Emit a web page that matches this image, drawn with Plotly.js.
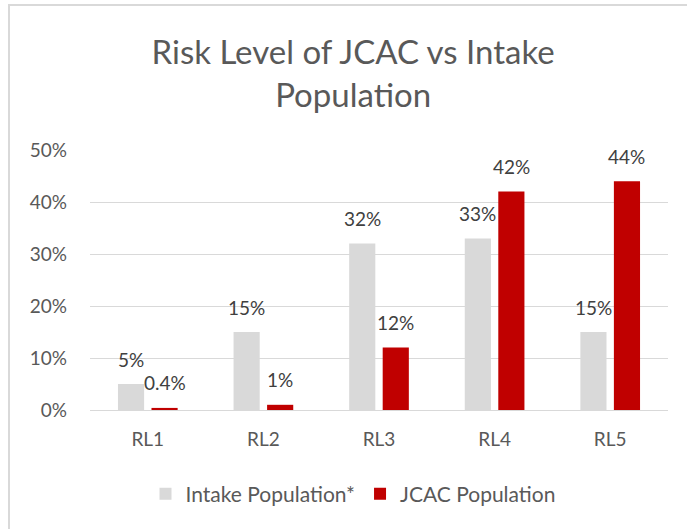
<!DOCTYPE html>
<html>
<head>
<meta charset="utf-8">
<script src="https://cdn.plot.ly/plotly-3.0.1.min.js"></script>
<style>
  html, body { margin: 0; padding: 0; background: #ffffff; }
  #chart { width: 687px; height: 529px; }
</style>
</head>
<body>
<div id="chart"></div>
<script>
// Data
const categories = ["RL1", "RL2", "RL3", "RL4", "RL5"];
const intakePopulation = [0.05, 0.15, 0.32, 0.33, 0.15];
const jcacPopulation = [0.004, 0.01, 0.12, 0.42, 0.44];
const intakeLabels = ["5%", "15%", "32%", "33%", "15%"];
const jcacLabels = ["0.4%", "1%", "12%", "42%", "44%"];
const yTickValues = [0, 0.1, 0.2, 0.3, 0.4, 0.5];
const yTickLabels = ["0%", "10%", "20%", "30%", "40%", "50%"];
const seriesNames = ["Intake Population*", "JCAC Population"];

const FONT = "Lato, 'Noto Sans', sans-serif";
const TICK_COLOR = "#595959";
const LABEL_COLOR = "#404040";

const traces = [
  {
    type: "bar",
    name: seriesNames[0],
    x: categories,
    y: intakePopulation,
    marker: { color: "#d9d9d9" },
    hoverinfo: "skip"
  },
  {
    type: "bar",
    name: seriesNames[1],
    x: categories,
    y: jcacPopulation,
    marker: { color: "#c00000" },
    hoverinfo: "skip"
  }
];

const annotations = [];
function addLabels(values, labels, shift) {
  for (let i = 0; i < categories.length; i++) {
    annotations.push({
      x: categories[i],
      y: values[i],
      xref: "x",
      yref: "y",
      text: labels[i],
      showarrow: false,
      xshift: shift,
      yshift: 25,
      yanchor: "middle",
      xanchor: "center",
      font: { family: FONT, size: 19, color: LABEL_COLOR }
    });
  }
}
addLabels(intakePopulation, intakeLabels, -16.7);
addLabels(jcacPopulation, jcacLabels, 16.7);

const layout = {
  width: 687,
  height: 529,
  paper_bgcolor: "#ffffff",
  plot_bgcolor: "#ffffff",
  margin: { l: 90, r: 19, t: 150, b: 119, pad: 0 },
  barmode: "group",
  bargap: 0.42,
  bargroupgap: 0.22,
  title: {
    text: "Risk Level of JCAC vs Intake<br>Population",
    font: { family: FONT, size: 33, color: TICK_COLOR },
    x: 0.514,
    xanchor: "center",
    xref: "container",
    yref: "container",
    y: 1 - 64 / 529,
    yanchor: "middle"
  },
  xaxis: {
    type: "category",
    showgrid: false,
    zeroline: false,
    showline: false,
    ticks: "",
    ticklabelstandoff: 16,
    tickfont: { family: FONT, size: 19, color: TICK_COLOR }
  },
  yaxis: {
    range: [0, 0.5],
    tickvals: yTickValues,
    ticktext: yTickLabels,
    showgrid: true,
    gridcolor: "#d9d9d9",
    gridwidth: 1,
    zeroline: true,
    zerolinecolor: "#d9d9d9",
    zerolinewidth: 1,
    showline: false,
    ticks: "",
    ticklabelstandoff: 22,
    tickfont: { family: FONT, size: 19, color: TICK_COLOR }
  },
  showlegend: true,
  legend: {
    orientation: "h",
    x: 0.455,
    xanchor: "center",
    y: -84 / 260,
    yanchor: "middle",
    font: { family: FONT, size: 21, color: TICK_COLOR },
    itemwidth: 30,
    bgcolor: "rgba(0,0,0,0)"
  },
  annotations: annotations,
  shapes: [
    {
      type: "rect",
      xref: "paper",
      yref: "paper",
      x0: (9 - 90) / 578,
      x1: (700 - 90) / 578,
      y0: (410 - 560) / 260,
      y1: (410 - 5) / 260,
      line: { color: "#d9d9d9", width: 2 },
      fillcolor: "rgba(0,0,0,0)",
      layer: "below"
    }
  ]
};

Plotly.newPlot("chart", traces, layout, { displayModeBar: false, staticPlot: true });
</script>
</body>
</html>
